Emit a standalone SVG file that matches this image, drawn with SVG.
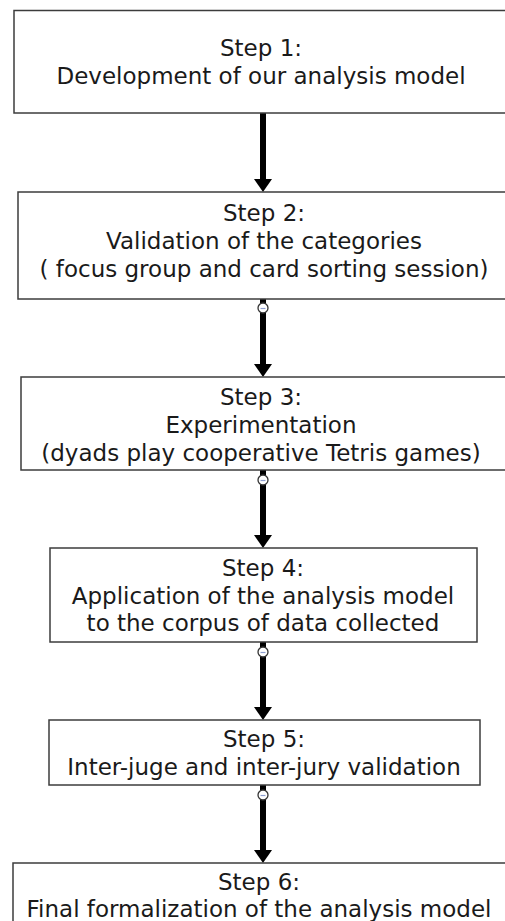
<svg xmlns="http://www.w3.org/2000/svg" width="505" height="921" viewBox="0 0 505 921">
  <style>
    .box { fill: #ffffff; stroke: #3c3c3c; stroke-width: 1.5; }
    .lbl { font-family: "DejaVu Sans", "Liberation Sans", sans-serif; font-size: 23px; fill: #1a1a1a; text-anchor: middle; }
    .edge { stroke: #000000; stroke-width: 6; fill: none; }
    .handle { fill: #ffffff; stroke: #333333; stroke-width: 1.3; }
    .dash { stroke: #8f9fd0; stroke-width: 1.2; }
  </style>
  <defs>
    <marker id="arrow" markerUnits="userSpaceOnUse" viewBox="0 0 13 18" markerWidth="13" markerHeight="18" refX="0" refY="9" orient="auto">
      <path d="M0,0 L13,9 L0,18 z" fill="#000000"/>
    </marker>
  </defs>
  <rect width="505" height="921" fill="#ffffff"/>

  <g id="connectors">
    <line class="edge" x1="263" y1="113" x2="263" y2="179" marker-end="url(#arrow)"/>
    <line class="edge" x1="263" y1="299" x2="263" y2="364" marker-end="url(#arrow)"/>
    <line class="edge" x1="263" y1="470" x2="263" y2="535" marker-end="url(#arrow)"/>
    <line class="edge" x1="263" y1="642" x2="263" y2="707" marker-end="url(#arrow)"/>
    <line class="edge" x1="263" y1="785" x2="263" y2="850" marker-end="url(#arrow)"/>
    <circle class="handle" cx="263" cy="308" r="5"/>
    <line class="dash" x1="260.5" y1="308.5" x2="265.5" y2="308.5"/>
    <circle class="handle" cx="263" cy="480" r="5"/>
    <line class="dash" x1="260.5" y1="480.5" x2="265.5" y2="480.5"/>
    <circle class="handle" cx="263" cy="652" r="5"/>
    <line class="dash" x1="260.5" y1="652.5" x2="265.5" y2="652.5"/>
    <circle class="handle" cx="263" cy="795" r="5"/>
    <line class="dash" x1="260.5" y1="795.5" x2="265.5" y2="795.5"/>
  </g>

  <g id="step1">
    <rect class="box" x="14" y="10.5" width="500" height="102.5"/>
    <text class="lbl" x="261" y="56">Step 1:</text>
    <text class="lbl" x="261" y="84">Development of our analysis model</text>
  </g>

  <g id="step2">
    <rect class="box" x="18" y="192" width="500" height="107"/>
    <text class="lbl" x="264" y="221">Step 2:</text>
    <text class="lbl" x="264" y="249">Validation of the categories</text>
    <text class="lbl" x="264" y="277">( focus group and card sorting session)</text>
  </g>

  <g id="step3">
    <rect class="box" x="21" y="377" width="500" height="93"/>
    <text class="lbl" x="261" y="405">Step 3:</text>
    <text class="lbl" x="261" y="433">Experimentation</text>
    <text class="lbl" x="261" y="461">(dyads play cooperative Tetris games)</text>
  </g>

  <g id="step4">
    <rect class="box" x="50" y="548" width="427" height="94"/>
    <text class="lbl" x="263" y="576">Step 4:</text>
    <text class="lbl" x="263" y="604">Application of the analysis model</text>
    <text class="lbl" x="263" y="631"> to the corpus of data collected</text>
  </g>

  <g id="step5">
    <rect class="box" x="49" y="720" width="431" height="65"/>
    <text class="lbl" x="264" y="747">Step 5:</text>
    <text class="lbl" x="264" y="775">Inter-juge and inter-jury validation</text>
  </g>

  <g id="step6">
    <rect class="box" x="13" y="863" width="500" height="80"/>
    <text class="lbl" x="259" y="890">Step 6:</text>
    <text class="lbl" x="259" y="917">Final formalization of the analysis model</text>
  </g>
</svg>
